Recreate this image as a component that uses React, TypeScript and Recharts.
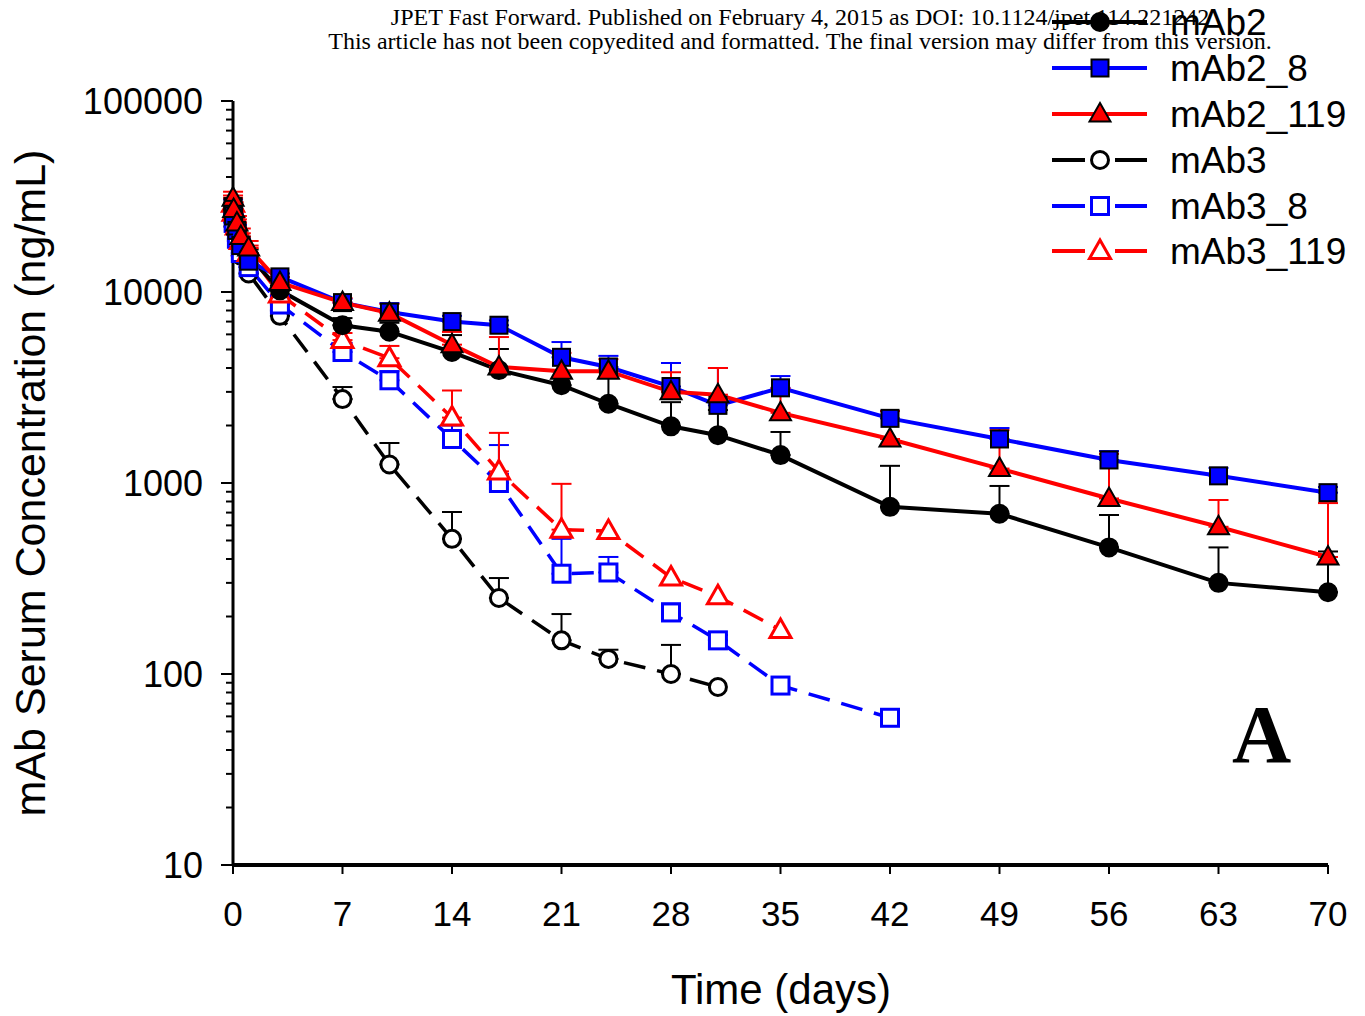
import { LineChart, Line, XAxis, YAxis, ErrorBar, Legend } from 'recharts'

// sampling times (days)
const TIMES = [0.0035, 0.04, 0.25, 0.5, 1, 3, 7, 10, 14, 17, 21, 24, 28, 31, 35, 42, 49, 56, 63, 70]

// mean serum concentrations (ng/mL) and upper SD
const MAB2 = [27000, 25000, 21000, 18000, 15500, 10200, 6700, 6200, 4850, 3900, 3250, 2600, 1980, 1780, 1400, 750, 690, 460, 300, 268]
const MAB2_SD = [2000, 2000, 1500, 1500, 1200, 600, 600, 700, 1100, 1130, 600, 1360, 670, 630, 450, 480, 275, 220, 160, 170]
const MAB2_8 = [28000, 25000, 21000, 17500, 14500, 12000, 8800, 7850, 7000, 6700, 4550, 4050, 3200, 2550, 3150, 2180, 1700, 1320, 1090, 890]
const MAB2_8_SD = [2500, 2000, 1500, 1500, 1200, 500, 400, 900, 500, 400, 920, 580, 1050, 1450, 480, 200, 240, 150, 110, 63]
const MAB2_119 = [31000, 27000, 23000, 19500, 17000, 11200, 8800, 7750, 5300, 4050, 3850, 3850, 3000, 2900, 2330, 1700, 1190, 830, 590, 410]
const MAB2_119_SD = [2500, 2500, 2000, 2000, 1500, 800, 500, 900, 880, 1760, 950, 600, 800, 1100, 800, 680, 700, 590, 225, 375]
const MAB3 = [25000, 22000, 18500, 15500, 12500, 7500, 2750, 1250, 510, 250, 150, 120, 100, 85.5]
const MAB3_SD = [2000, 1800, 1500, 1200, 1000, 500, 430, 370, 195, 68, 56, 14, 42, 0]
const MAB3_8 = [26000, 23000, 19000, 16000, 13500, 8600, 4850, 3450, 1700, 1000, 335, 340, 210, 150, 87, 59]
const MAB3_8_SD = [2500, 2000, 1500, 1500, 1200, 600, 300, 400, 300, 580, 175, 70, 24, 10, 0, 0]
const MAB3_119 = [29000, 26000, 22000, 18500, 16000, 9700, 5600, 4500, 2200, 1150, 570, 560, 320, 255, 170]
const MAB3_119_SD = [3000, 2500, 2000, 1800, 1500, 700, 500, 720, 850, 680, 420, 0, 0, 0, 0]

const X_TICKS = [0, 7, 14, 21, 28, 35, 42, 49, 56, 63, 70]
const DECADES = [10, 100, 1000, 10000, 100000]
const MINOR_MULTS = [2, 3, 4, 5, 6, 7, 8, 9]

const BLUE = '#0000ff'
const RED = '#ff0000'
const FONT = '"Liberation Sans", Arial, sans-serif'

type Shape = 'circle' | 'square' | 'triangle'
interface Series {
  key: string
  name: string
  color: string
  dashed: boolean
  shape: Shape
  filled: boolean
  values: number[]
  sd: number[]
}

const SERIES: Series[] = [
  { key: 'mAb2', name: 'mAb2', color: '#000', dashed: false, shape: 'circle', filled: true, values: MAB2, sd: MAB2_SD },
  { key: 'mAb2_8', name: 'mAb2_8', color: BLUE, dashed: false, shape: 'square', filled: true, values: MAB2_8, sd: MAB2_8_SD },
  { key: 'mAb2_119', name: 'mAb2_119', color: RED, dashed: false, shape: 'triangle', filled: true, values: MAB2_119, sd: MAB2_119_SD },
  { key: 'mAb3', name: 'mAb3', color: '#000', dashed: true, shape: 'circle', filled: false, values: MAB3, sd: MAB3_SD },
  { key: 'mAb3_8', name: 'mAb3_8', color: BLUE, dashed: true, shape: 'square', filled: false, values: MAB3_8, sd: MAB3_8_SD },
  { key: 'mAb3_119', name: 'mAb3_119', color: RED, dashed: true, shape: 'triangle', filled: false, values: MAB3_119, sd: MAB3_119_SD },
]

// draw order: dashed group below, solid group on top
const DRAW_ORDER = ['mAb3', 'mAb3_8', 'mAb3_119', 'mAb2', 'mAb2_8', 'mAb2_119']

const Y_TICKS = DECADES.flatMap((d, i) =>
  i < DECADES.length - 1 ? [d, ...MINOR_MULTS.map(m => d * m)] : [d]
)

const rows = TIMES.map((t, i) => {
  const row: Record<string, any> = { t }
  SERIES.forEach(s => {
    const v = s.values[i]
    row[s.key] = v ?? null
    const e = s.sd[i]
    row[`${s.key}_sd`] = v != null && e ? [0, e] : undefined
  })
  return row
})

function Marker({ cx, cy, s }: { cx: number; cy: number; s: Series }) {
  const fill = s.filled ? s.color : '#fff'
  const stroke = s.filled ? (s.shape === 'circle' ? s.color : '#000') : s.color
  const sw = s.filled ? 2 : 3
  if (s.shape === 'circle') {
    return <circle cx={cx} cy={cy} r={s.filled ? 9 : 8.5} fill={fill} stroke={stroke} strokeWidth={sw} />
  }
  if (s.shape === 'square') {
    const h = 8.5
    return <rect x={cx - h} y={cy - h} width={h * 2} height={h * 2} fill={fill} stroke={stroke} strokeWidth={sw} />
  }
  return (
    <polygon
      points={`${cx},${cy - 11} ${cx + 10.5},${cy + 7.5} ${cx - 10.5},${cy + 7.5}`}
      fill={fill}
      stroke={stroke}
      strokeWidth={sw}
      strokeLinejoin="miter"
    />
  )
}

const renderDot = (s: Series) => (props: any) => {
  const { cx, cy, key, index } = props
  if (cx == null || cy == null || props.value == null) return <g key={key ?? `${s.key}-${index}`} />
  return (
    <g key={key ?? `${s.key}-${index}`}>
      <Marker cx={cx} cy={cy} s={s} />
    </g>
  )
}

function YTick(props: any) {
  const { x, y, payload } = props
  const v = payload.value
  const major = DECADES.includes(v)
  return (
    <g>
      <line x1={x} x2={x - (major ? 12 : 7)} y1={y} y2={y} stroke="#000" strokeWidth={2} />
      {major && (
        <text x={x - 30} y={y} dy="0.355em" textAnchor="end" fontFamily={FONT} fontSize={36} fill="#000">
          {v}
        </text>
      )}
    </g>
  )
}

const LEGEND_ROWS_Y = [22, 68, 114, 160, 206, 251]

function LegendBox() {
  return (
    <svg width={325} height={280} style={{ overflow: 'visible' }}>
      {SERIES.map((s, i) => {
        const y = LEGEND_ROWS_Y[i]
        return (
          <g key={s.key}>
            {s.dashed ? (
              <>
                <line x1={12} x2={45} y1={y} y2={y} stroke={s.color} strokeWidth={4} />
                <line x1={75} x2={107} y1={y} y2={y} stroke={s.color} strokeWidth={4} />
              </>
            ) : (
              <line x1={12} x2={107} y1={y} y2={y} stroke={s.color} strokeWidth={4} />
            )}
            <Marker cx={60} cy={y} s={s} />
            <text x={130} y={y} dy="0.355em" fontFamily={FONT} fontSize={37} fill="#000">
              {s.name}
            </text>
          </g>
        )
      })}
    </svg>
  )
}

export default function App() {
  return (
    <div style={{ position: 'absolute', left: 0, top: 0, width: 1365, height: 1016, background: '#fff' }}>
      <div
        style={{
          position: 'absolute',
          left: 300,
          top: 5,
          width: 1000,
          textAlign: 'center',
          fontFamily: '"Liberation Serif", "Times New Roman", serif',
          fontSize: 24,
          lineHeight: '24px',
          color: '#000',
          whiteSpace: 'nowrap',
        }}
      >
        JPET Fast Forward. Published on February 4, 2015 as DOI: 10.1124/jpet.114.221242
        <br />
        This article has not been copyedited and formatted. The final version may differ from this version.
      </div>
      <LineChart width={1365} height={1016} data={rows} margin={{ top: 101, right: 37, bottom: 91, left: 113 }}>
        <XAxis
          dataKey="t"
          type="number"
          domain={[0, 70]}
          ticks={X_TICKS}
          interval={0}
          height={60}
          axisLine={{ stroke: '#000', strokeWidth: 4 }}
          tickLine={{ stroke: '#000', strokeWidth: 2 }}
          tickSize={9}
          tickMargin={27}
          tick={{ fill: '#000', fontSize: 35, fontFamily: FONT }}
          label={() => (
            <text x={781} y={1004} textAnchor="middle" fontFamily={FONT} fontSize={42} fill="#000">
              Time (days)
            </text>
          )}
        />
        <YAxis
          type="number"
          scale="log"
          domain={[10, 100000]}
          allowDataOverflow
          ticks={Y_TICKS}
          interval={0}
          width={120}
          axisLine={{ stroke: '#000', strokeWidth: 3 }}
          tickLine={false}
          tickSize={0}
          tickMargin={0}
          tick={<YTick />}
          label={() => (
            <text
              x={45}
              y={483}
              transform="rotate(-90 45 483)"
              textAnchor="middle"
              fontFamily={FONT}
              fontSize={43}
              fill="#000"
            >
              mAb Serum Concentration (ng/mL)
            </text>
          )}
        />
        <Legend
          layout="vertical"
          align="center"
          verticalAlign="middle"
          wrapperStyle={{ left: 1040, top: 0, width: 325, height: 280 }}
          content={() => <LegendBox />}
        />
        {DRAW_ORDER.map(k => {
          const s = SERIES.find(x => x.key === k)!
          return (
            <Line
              key={s.key}
              dataKey={s.key}
              name={s.name}
              stroke={s.color}
              strokeWidth={s.dashed ? 3.5 : 4}
              strokeDasharray={s.dashed ? '22 12' : undefined}
              dot={renderDot(s)}
              activeDot={false}
              isAnimationActive={false}
              connectNulls={false}
            >
              <ErrorBar dataKey={`${s.key}_sd`} direction="y" width={10} strokeWidth={2} stroke={s.color} />
            </Line>
          )
        })}
      </LineChart>
      <div
        style={{
          position: 'absolute',
          left: 1232,
          top: 690,
          fontFamily: '"Liberation Serif", "Times New Roman", serif',
          fontWeight: 'bold',
          fontSize: 82,
          lineHeight: '90px',
          color: '#000',
        }}
      >
        A
      </div>
    </div>
  )
}
